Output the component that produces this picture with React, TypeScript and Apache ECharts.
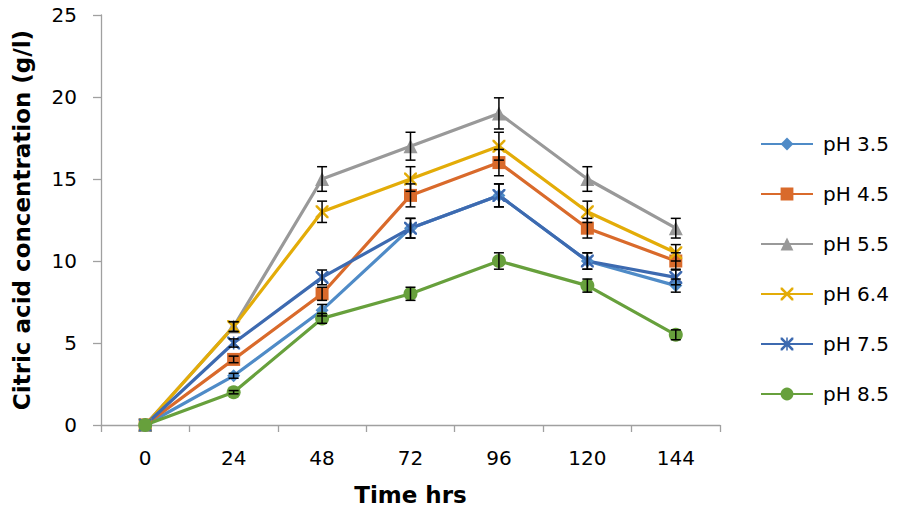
import React, { useEffect, useRef } from "react";
import * as echarts from "echarts";

const categories = ["0", "24", "48", "72", "96", "120", "144"];
const seriesNames = ["pH 3.5", "pH 4.5", "pH 5.5", "pH 6.4", "pH 7.5", "pH 8.5"];
const ph35 = [0, 3, 7, 12, 14, 10, 8.5];
const ph45 = [0, 4, 8, 14, 16, 12, 10];
const ph55 = [0, 6, 15, 17, 19, 15, 12];
const ph64 = [0, 6, 13, 15, 17, 13, 10.5];
const ph75 = [0, 5, 9, 12, 14, 10, 9];
const ph85 = [0, 2, 6.5, 8, 10, 8.5, 5.5];
const err35 = [0, 0.15, 0.35, 0.6, 0.7, 0.5, 0.4];
const err45 = [0, 0.2, 0.4, 0.7, 0.8, 0.6, 0.5];
const err55 = [0, 0.3, 0.75, 0.85, 0.95, 0.75, 0.6];
const err64 = [0, 0.3, 0.65, 0.75, 0.85, 0.65, 0.5];
const err75 = [0, 0.25, 0.45, 0.6, 0.7, 0.5, 0.45];
const err85 = [0, 0.1, 0.3, 0.4, 0.5, 0.4, 0.3];
const yTicks = [0, 5, 10, 15, 20, 25];

const values = [ph35, ph45, ph55, ph64, ph75, ph85];
const errors = [err35, err45, err55, err64, err75, err85];
const colors = ["#4F8BC7", "#D96A2B", "#999999", "#E3AC08", "#3D6AB0", "#67A03C"];
const xPath =
  "path://M0,0 L1.4,0 L5,3.6 L8.6,0 L10,0 L10,1.4 L6.4,5 L10,8.6 L10,10 L8.6,10 L5,6.4 L1.4,10 L0,10 L0,8.6 L3.6,5 L0,1.4 Z";
const starPath =
  "path://M0,0 L1.4,0 L5,3.6 L8.6,0 L10,0 L10,1.4 L6.4,5 L10,8.6 L10,10 L8.6,10 L5,6.4 L1.4,10 L0,10 L0,8.6 L3.6,5 L0,1.4 Z M4.4,0 L5.6,0 L5.6,10 L4.4,10 Z";
const symbols = ["diamond", "rect", "triangle", xPath, starPath, "circle"];
const symbolSizes = [13, 13, 14, 13, 13, 14];

const FONT = "'DejaVu Sans', 'Liberation Sans', sans-serif";

export default function App() {
  const ref = useRef<HTMLDivElement>(null);
  useEffect(() => {
    if (!ref.current) return;
    const chart = echarts.init(ref.current, null, { renderer: "svg" });
    const lineSeries = seriesNames.map((name, i) => ({
      name,
      type: "line",
      data: values[i],
      symbol: symbols[i],
      symbolSize: symbolSizes[i],
      showAllSymbol: true,
      lineStyle: { width: 3.2, color: colors[i] },
      itemStyle: { color: colors[i] },
      z: 2,
    }));
    const errSeries = seriesNames.map((name, i) => ({
      name: name + " err",
      type: "custom",
      z: 3,
      silent: true,
      data: values[i].map((v, k) => [k, v, errors[i][k]]),
      encode: { x: 0, y: 1 },
      renderItem: (params: any, api: any) => {
        const x = api.value(0);
        const v = api.value(1);
        const e = api.value(2);
        if (!e) return { type: "group", children: [] };
        const hi = api.coord([x, v + e]);
        const lo = api.coord([x, v - e]);
        const hw = 5;
        const style = { stroke: "#000", lineWidth: 1.5, fill: null };
        return {
          type: "group",
          children: [
            { type: "line", shape: { x1: hi[0], y1: hi[1], x2: lo[0], y2: lo[1] }, style },
            { type: "line", shape: { x1: hi[0] - hw, y1: hi[1], x2: hi[0] + hw, y2: hi[1] }, style },
            { type: "line", shape: { x1: lo[0] - hw, y1: lo[1], x2: lo[0] + hw, y2: lo[1] }, style },
          ],
        };
      },
    }));
    chart.setOption({
      animation: false,
      backgroundColor: "#fff",
      textStyle: { fontFamily: FONT },
      grid: { left: 101, right: 182, top: 15, bottom: 87 },
      legend: {
        data: seriesNames,
        orient: "vertical",
        left: 755,
        top: 128,
        itemWidth: 52,
        itemHeight: 16,
        itemGap: 28,
        textStyle: { fontSize: 20, color: "#000", fontFamily: FONT, lineHeight: 22, padding: [0, 0, 0, 5] },
      },
      xAxis: {
        type: "category",
        data: categories,
        boundaryGap: true,
        name: "Time hrs",
        nameLocation: "middle",
        nameGap: 58,
        nameTextStyle: { fontSize: 23, fontWeight: "bold", color: "#000", fontFamily: FONT },
        axisLine: { lineStyle: { color: "#A0A0A0", width: 1.3 } },
        axisTick: { show: true, alignWithLabel: false, length: 7, lineStyle: { color: "#A0A0A0", width: 1.3 } },
        axisLabel: { fontSize: 20, color: "#000", margin: 23, fontFamily: FONT },
        splitLine: { show: false },
      },
      yAxis: {
        type: "value",
        min: yTicks[0],
        max: yTicks[yTicks.length - 1],
        interval: 5,
        name: "Citric acid concentration (g/l)",
        nameLocation: "middle",
        nameGap: 68,
        nameTextStyle: { fontSize: 23, fontWeight: "bold", color: "#000", fontFamily: FONT },
        axisLine: { show: true, lineStyle: { color: "#A0A0A0", width: 1.3 } },
        axisTick: { show: true, length: 8, lineStyle: { color: "#A0A0A0", width: 1.3 } },
        axisLabel: { fontSize: 20, color: "#000", margin: 24, fontFamily: FONT },
        splitLine: { show: false },
      },
      series: [...lineSeries, ...errSeries],
    });
    return () => chart.dispose();
  }, []);
  return <div ref={ref} style={{ width: 902, height: 512, position: "absolute", left: 0, top: 0 }} />;
}
